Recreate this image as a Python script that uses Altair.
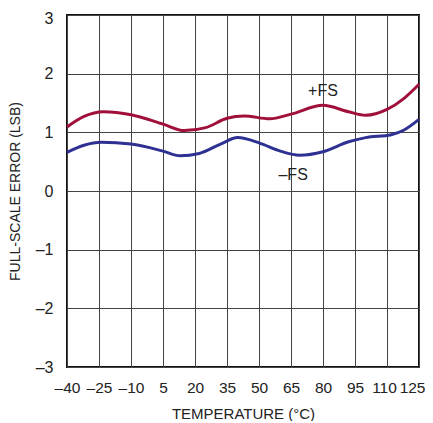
import altair as alt
import pandas as pd

pos_t = [-40, -32, -23, -10, 5, 15, 25, 35, 43, 55, 65, 80, 92, 100, 110, 118, 125]
pos_v = [1.09, 1.27, 1.35, 1.30, 1.14, 1.03, 1.08, 1.24, 1.28, 1.23, 1.31, 1.46, 1.35, 1.29, 1.39, 1.58, 1.82]
neg_t = [-40, -32, -24, -10, 5, 13, 22, 32, 40, 50, 60, 69, 80, 92, 100, 112, 118, 125]
neg_v = [0.66, 0.78, 0.83, 0.80, 0.68, 0.60, 0.64, 0.80, 0.91, 0.82, 0.68, 0.61, 0.67, 0.84, 0.91, 0.96, 1.04, 1.22]

label_text = ["+FS", "–FS"]
label_t = [80, 66]
label_v = [1.70, 0.28]

x_ticks = [-40, -25, -10, 5, 20, 35, 50, 65, 80, 95, 110, 125]
y_ticks = [-3, -2, -1, 0, 1, 2, 3]

FONT = "Liberation Sans, Arial, sans-serif"
LBL = "datum.value < 0 ? '–' + abs(datum.value) : '' + datum.value"

df = pd.concat([
    pd.DataFrame({"t": pos_t, "v": pos_v, "s": "+FS"}),
    pd.DataFrame({"t": neg_t, "v": neg_v, "s": "-FS"}),
])
lab = pd.DataFrame({"t": label_t, "v": label_v, "txt": label_text})

x = alt.X("t:Q", scale=alt.Scale(domain=[-40, 125], nice=False, zero=False),
          axis=alt.Axis(values=x_ticks, title="TEMPERATURE (°C)", ticks=False,
                        labelPadding=13, labelExpr=LBL, labelOverlap=False, labelFlush=False,
                        labelFontSize=15.5, labelBound=False,
                        labelAlign={"condition": {"test": "datum.value == 125", "value": "right"}, "value": "center"},
                        labelOffset={"condition": [{"test": "datum.value == 125", "value": 6},
                                                   {"test": "datum.value == 110", "value": -3}],
                                     "value": 0},
                        titleFontSize=15, titleY=51, titleBaseline="alphabetic"))
y = alt.Y("v:Q", scale=alt.Scale(domain=[-3, 3], nice=False),
          axis=alt.Axis(values=y_ticks, title="FULL-SCALE ERROR (LSB)", ticks=False,
                        labelPadding=14, labelExpr=LBL, labelOverlap=False, labelFontSize=16,
                        labelOffset={"condition": {"test": "datum.value == 3", "value": 3}, "value": 0},
                        titleFontSize=14, titleX=-48, titleBaseline="alphabetic"))

lines = alt.Chart(df).mark_line(interpolate="monotone", strokeWidth=3).encode(
    x=x, y=y,
    color=alt.Color("s:N", scale=alt.Scale(domain=["+FS", "-FS"], range=["#a0103a", "#2e3192"]), legend=None),
)
texts = alt.Chart(lab).mark_text(font=FONT, fontSize=16, color="#222").encode(
    x=x, y=y, text="txt:N"
)

chart = (lines + texts).properties(
    width=352, height=352,
    autosize=alt.AutoSizeParams(type="none"),
    padding={"left": 59, "top": 7, "right": 6, "bottom": 54},
).configure_view(stroke="#111", strokeWidth=2).configure_axis(
    grid=True, gridColor="#444", gridWidth=1, gridOpacity=1,
    domain=False, labelFont=FONT, labelColor="#222",
    titleFont=FONT, titleFontWeight="normal", titleColor="#222",
)

chart.save("out.html", embed_options={"renderer": "svg", "actions": False})
